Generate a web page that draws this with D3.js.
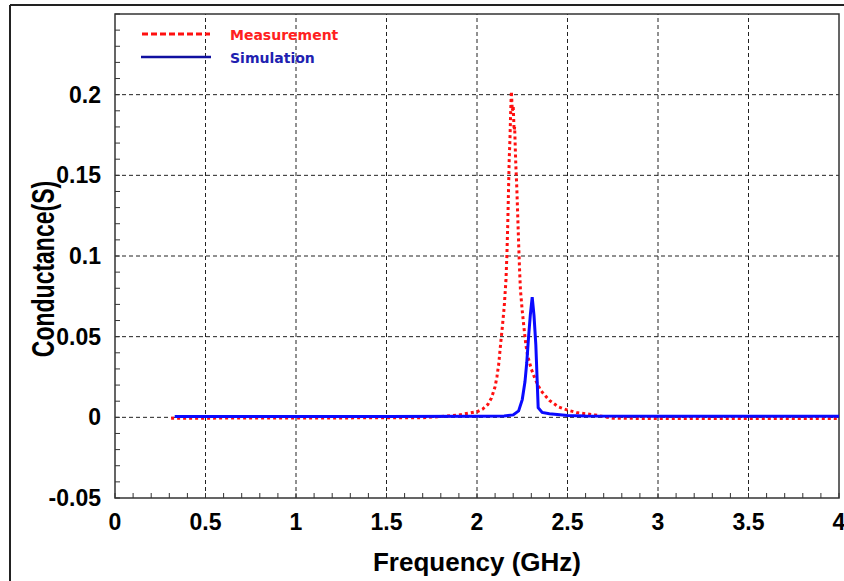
<!DOCTYPE html>
<html>
<head>
<meta charset="utf-8">
<script src="https://cdn.jsdelivr.net/npm/d3@7"></script>
<style>
  body { margin: 0; background: #fff; }
  svg { display: block; }
</style>
</head>
<body>
<div id="chart"></div>
<script>
// measured conductance (GHz, S)
const measFreq = [0.31, 0.5, 1.0, 1.5, 1.7, 1.8, 1.9, 1.95, 2.0, 2.03, 2.06, 2.08, 2.1, 2.11, 2.12, 2.13, 2.14, 2.15, 2.16, 2.165, 2.17, 2.175, 2.178, 2.182, 2.185, 2.188, 2.19, 2.195, 2.2, 2.205, 2.208, 2.212, 2.215, 2.22, 2.225, 2.23, 2.235, 2.24, 2.25, 2.26, 2.27, 2.28, 2.3, 2.32, 2.35, 2.38, 2.4, 2.45, 2.5, 2.55, 2.6, 2.65, 2.7, 2.75, 3.0, 3.5, 4.0];
const measVal = [-0.0005, -0.0005, -0.0004, -0.0003, -0.0002, 0.0005, 0.0015, 0.0025, 0.0035, 0.005, 0.008, 0.012, 0.019, 0.025, 0.033, 0.045, 0.056, 0.068, 0.085, 0.1, 0.12, 0.145, 0.16, 0.172, 0.185, 0.196, 0.202, 0.19, 0.193, 0.178, 0.18, 0.165, 0.155, 0.142, 0.125, 0.108, 0.092, 0.079, 0.066, 0.055, 0.045, 0.038, 0.03, 0.024, 0.017, 0.013, 0.0105, 0.0065, 0.0045, 0.003, 0.0022, 0.0015, 0.0005, -0.0005, -0.0008, -0.0008, -0.0008];

// simulated conductance
const simFreq = [0.33, 1.0, 1.5, 2.0, 2.15, 2.2, 2.23, 2.25, 2.265, 2.275, 2.285, 2.295, 2.305, 2.315, 2.325, 2.332, 2.338, 2.36, 2.4, 2.5, 2.6, 3.0, 4.0];
const simVal = [0.0005, 0.0005, 0.0005, 0.0006, 0.0008, 0.0015, 0.004, 0.011, 0.022, 0.034, 0.05, 0.064, 0.0745, 0.063, 0.045, 0.024, 0.006, 0.003, 0.0022, 0.0012, 0.0008, 0.0006, 0.0006];

const xTicks = [0, 0.5, 1, 1.5, 2, 2.5, 3, 3.5, 4];
const yTicks = [-0.05, 0, 0.05, 0.1, 0.15, 0.2];
const legendNames = ["Measurement", "Simulation"];

const W = 844, H = 581;
const margin = {left: 115, top: 14, right: 5, bottom: 83};

const svg = d3.select("#chart").append("svg")
    .attr("width", W)
    .attr("height", H);

// outer frame (top + left edges only visible)
svg.append("line").attr("x1", 10).attr("x2", W).attr("y1", 5).attr("y2", 5)
    .attr("stroke", "#222").attr("stroke-width", 2);
svg.append("line").attr("x1", 10).attr("x2", 10).attr("y1", 5).attr("y2", H)
    .attr("stroke", "#222").attr("stroke-width", 2);

const x = d3.scaleLinear().domain([0, 4]).range([margin.left, W - margin.right]);
const y = d3.scaleLinear().domain([-0.05, 0.25]).range([H - margin.bottom, margin.top]);

const g = svg.append("g");

// grid
g.selectAll(".vgrid").data(xTicks.slice(1, -1)).enter().append("line")
    .attr("x1", d => x(d)).attr("x2", d => x(d))
    .attr("y1", y(-0.05)).attr("y2", y(0.25))
    .attr("stroke", "#222").attr("stroke-width", 1).attr("stroke-dasharray", "4,3");
g.selectAll(".hgrid").data(yTicks.slice(1)).enter().append("line")
    .attr("x1", x(0)).attr("x2", x(4))
    .attr("y1", d => y(d)).attr("y2", d => y(d))
    .attr("stroke", "#222").attr("stroke-width", 1).attr("stroke-dasharray", "4,3");

// minor ticks (inward)
const xMinor = d3.range(0, 41).map(i => i / 10);
const yMinor = d3.range(-5, 26).map(i => i / 100);
g.selectAll(".xm").data(xMinor).enter().append("line")
    .attr("x1", d => x(d)).attr("x2", d => x(d))
    .attr("y1", y(-0.05)).attr("y2", y(-0.05) - 5)
    .attr("stroke", "#333").attr("stroke-width", 1);
g.selectAll(".ym").data(yMinor).enter().append("line")
    .attr("x1", x(0)).attr("x2", x(0) + 5)
    .attr("y1", d => y(d)).attr("y2", d => y(d))
    .attr("stroke", "#333").attr("stroke-width", 1);

// plot border
g.append("rect")
    .attr("x", x(0)).attr("y", y(0.25))
    .attr("width", x(4) - x(0)).attr("height", y(-0.05) - y(0.25))
    .attr("fill", "none").attr("stroke", "#333").attr("stroke-width", 1.5);

// tick labels
const tickFont = "Liberation Sans, Arial, sans-serif";
g.selectAll(".xl").data(xTicks).enter().append("text")
    .attr("x", d => x(d)).attr("y", y(-0.05) + 32)
    .attr("text-anchor", "middle")
    .attr("font-family", tickFont).attr("font-weight", "bold").attr("font-size", 23)
    .text(d => String(d));
g.selectAll(".yl").data(yTicks).enter().append("text")
    .attr("x", x(0) - 14).attr("y", d => y(d) + 8)
    .attr("text-anchor", "end")
    .attr("font-family", tickFont).attr("font-weight", "bold").attr("font-size", 23)
    .text(d => String(d));

// axis titles
svg.append("text")
    .attr("x", 477).attr("y", 571)
    .attr("text-anchor", "middle")
    .attr("font-family", tickFont).attr("font-weight", "bold").attr("font-size", 26)
    .text("Frequency (GHz)");
svg.append("text")
    .attr("transform", "translate(54,269) rotate(-90) scale(1,1.35)")
    .attr("text-anchor", "middle")
    .attr("font-family", tickFont).attr("font-weight", "bold").attr("font-size", 23)
    .text("Conductance(S)");

// data lines
const line = d3.line().x(d => x(d[0])).y(d => y(d[1]));
const meas = measFreq.map((f, i) => [f, measVal[i]]);
const sim = simFreq.map((f, i) => [f, simVal[i]]);

svg.append("clipPath").attr("id", "clip").append("rect")
    .attr("x", x(0)).attr("y", y(0.25))
    .attr("width", x(4) - x(0)).attr("height", y(-0.05) - y(0.25));

g.append("path").datum(meas)
    .attr("d", line).attr("clip-path", "url(#clip)")
    .attr("fill", "none").attr("stroke", "#ff1010").attr("stroke-width", 3)
    .attr("stroke-dasharray", "3,3");
g.append("path").datum(sim)
    .attr("d", line).attr("clip-path", "url(#clip)")
    .attr("fill", "none").attr("stroke", "#0a0aff").attr("stroke-width", 3);

// legend
const leg = svg.append("g");
leg.append("line").attr("x1", 142).attr("x2", 210).attr("y1", 34).attr("y2", 34)
    .attr("stroke", "#ff1010").attr("stroke-width", 3).attr("stroke-dasharray", "6,3");
leg.append("line").attr("x1", 141).attr("x2", 211).attr("y1", 57).attr("y2", 57)
    .attr("stroke", "#1010a0").attr("stroke-width", 2.5);
leg.selectAll("text").data(legendNames).enter().append("text")
    .attr("x", 230).attr("y", (d, i) => 40 + i * 23)
    .attr("font-family", "DejaVu Sans, sans-serif").attr("font-weight", "bold").attr("font-size", 14)
    .attr("fill", (d, i) => i === 0 ? "#ff2020" : "#2020b0")
    .text(d => d);
</script>
</body>
</html>
